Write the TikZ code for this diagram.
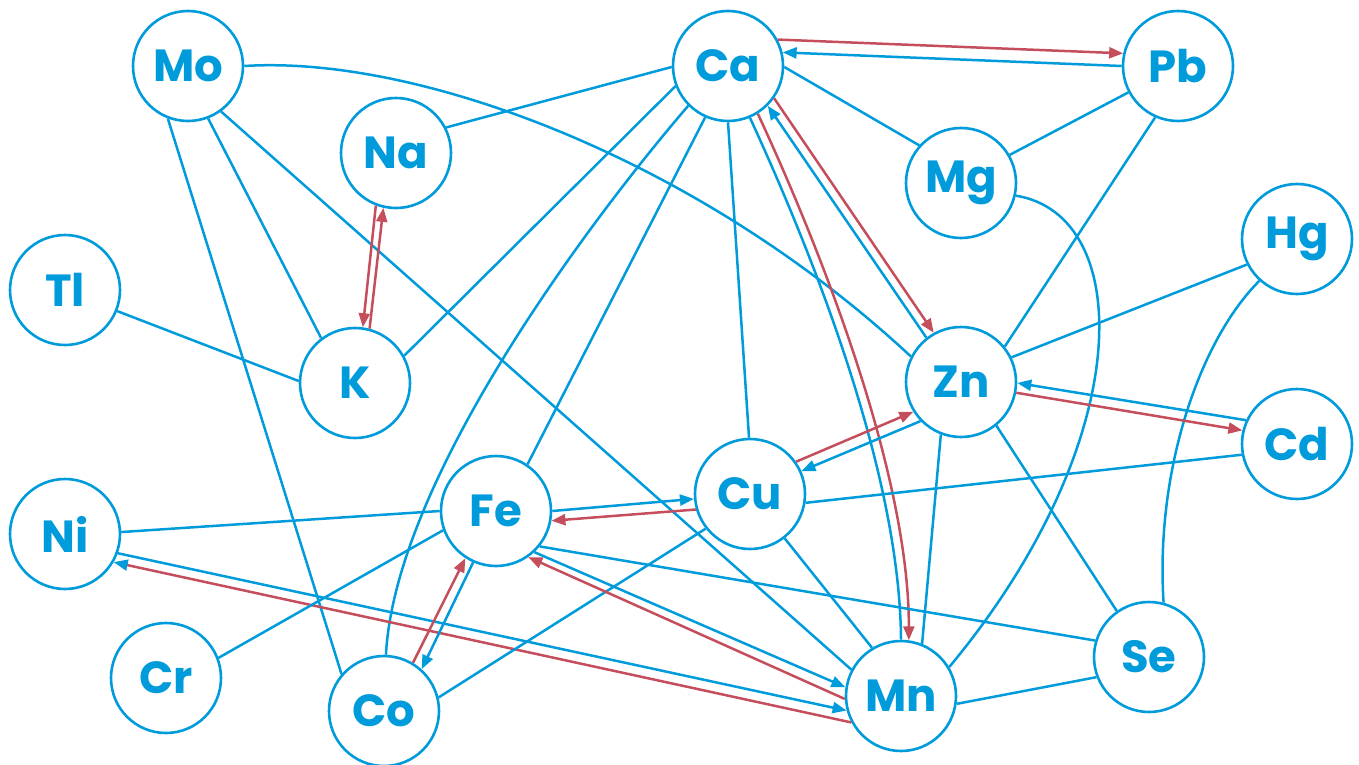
\documentclass[tikz,border=0pt]{standalone}
\usepackage{fontspec}
\setmainfont{Poppins}
\usetikzlibrary{arrows.meta}
\definecolor{cb}{RGB}{0,155,219}
\definecolor{cr}{RGB}{196,78,92}
\begin{document}
\begin{tikzpicture}[x=1pt,y=-1pt,
  el/.style={circle,draw=cb,line width=2.6pt,minimum size=110pt,inner sep=0pt,
    font=\fontsize{45}{45}\selectfont\bfseries,text=cb,fill=white},
  bl/.style={draw=cb,line width=2.5pt},
  rd/.style={draw=cr,line width=2.5pt},
  tip/.style={-{Triangle[length=14pt,width=11pt]}},
  btip/.style={-{Triangle[length=14pt,width=11pt,color=cb]}}]
\useasboundingbox (0,0) rectangle (1359,765);
\node[el] (Mo) at (188,66) {Mo};
\node[el] (Ca) at (728,66) {Ca};
\node[el] (Pb) at (1178,66) {Pb};
\node[el] (Na) at (396,153) {Na};
\node[el] (Mg) at (961,183) {Mg};
\node[el] (Hg) at (1297,239) {Hg};
\node[el] (Tl) at (65,290) {Tl};
\node[el] (K) at (355,383) {K};
\node[el] (Zn) at (961,382) {Zn};
\node[el] (Cd) at (1297,444) {Cd};
\node[el] (Cu) at (750,494) {Cu};
\node[el] (Fe) at (496,511) {Fe};
\node[el] (Ni) at (65,534) {Ni};
\node[el] (Cr) at (166,678) {Cr};
\node[el] (Co) at (384,711) {Co};
\node[el] (Mn) at (901,696) {Mn};
\node[el] (Se) at (1149,657) {Se};
% Mo
\draw[bl] (Mo.-69.7) -- (K.127.3);
\draw[bl] (Mo.-111.3) -- (Co.139.4);
\draw[bl] (Mo.-54.1) -- (Mn.152);
\draw[bl] (Mo.0) .. controls (420,55) and (700,160) .. (Zn.153.4);
% Ca
\draw[bl] (Ca.181) -- (Na.27.5);
\draw[bl] (Ca.201.6) -- (K.29.2);
\draw[bl] (Ca.225.7) .. controls (590,220) and (395,480) .. (Co.88);
\draw[bl] (Ca.246) -- (Fe.56);
\draw[bl] (Ca.270) -- (Cu.91);
\draw[bl] (Ca.-67) .. controls (820,270) and (900,480) .. (Mn.90);
\draw[rd,tip] (Ca.-58.5) .. controls (828,265) and (909,480) .. (Mn.82);
\draw[rd,tip] (Ca.-35.1) -- (Zn.119.1);
\draw[bl,tip] (Zn.128.5) -- (Ca.-45);
\draw[bl] (Ca.-1) -- (Mg.138.5);
\draw[rd,tip] (Ca.28.9) -- (Pb.167.8);
\draw[bl,tip] (Pb.180) -- (Ca.14);
% Pb, Mg
\draw[bl] (Pb.208.4) -- (Mg.30.6);
\draw[bl] (Pb.246) -- (Zn.39);
\draw[bl] (Mg.-13.3) .. controls (1135,215) and (1138,440) .. (Mn.31.7);
% Na, K, Tl
\draw[rd,tip] (Na.249.7) -- (K.82.5);
\draw[rd,tip] (K.75.7) -- (Na.257.6);
\draw[bl] (Tl.-22.5) -- (K.178);
% Hg, Zn, Cd
\draw[bl] (Hg.207) -- (Zn.26.1);
\draw[bl] (Hg.228) .. controls (1200,340) and (1155,470) .. (Se.75.7);
\draw[bl,tip] (Cd.155.2) -- (Zn.-1);
\draw[rd,tip] (Zn.-11.1) -- (Cd.166.2);
\draw[rd,tip] (Cu.35.4) -- (Zn.212.9);
\draw[bl,tip] (Zn.224.3) -- (Cu.24.4);
\draw[bl] (Zn.249) -- (Mn.68.7);
\draw[bl] (Zn.-51.3) -- (Se.125.9);
\draw[bl] (Cd.191.9) -- (Cu.-9);
% Fe, Cu
\draw[bl,tip] (Fe.0) -- (Cu.185.9);
\draw[rd,tip] (Cu.196.2) -- (Fe.-10.7);
\draw[bl] (Ni.2) -- (Fe.180);
\draw[bl,tip] (Ni.-20) -- (Mn.195.4);
\draw[rd,btip] (Mn.208.9) -- (Ni.-30.3);
\draw[bl] (Cr.21.6) -- (Fe.200.6);
\draw[bl] (Co.14) -- (Cu.218.7);
\draw[rd,tip] (Co.59.7) -- (Fe.237.6);
\draw[bl,tip] (Fe.246.9) -- (Co.48.4);
\draw[bl,tip] (Fe.-47.9) -- (Mn.171.2);
\draw[rd,tip] (Mn.183.1) -- (Fe.-55.5);
\draw[bl] (Fe.-39.3) -- (Se.163.5);
\draw[bl] (Cu.-52.7) -- (Mn.121.7);
\draw[bl] (Mn.-8) -- (Se.201.6);
\end{tikzpicture}
\end{document}
